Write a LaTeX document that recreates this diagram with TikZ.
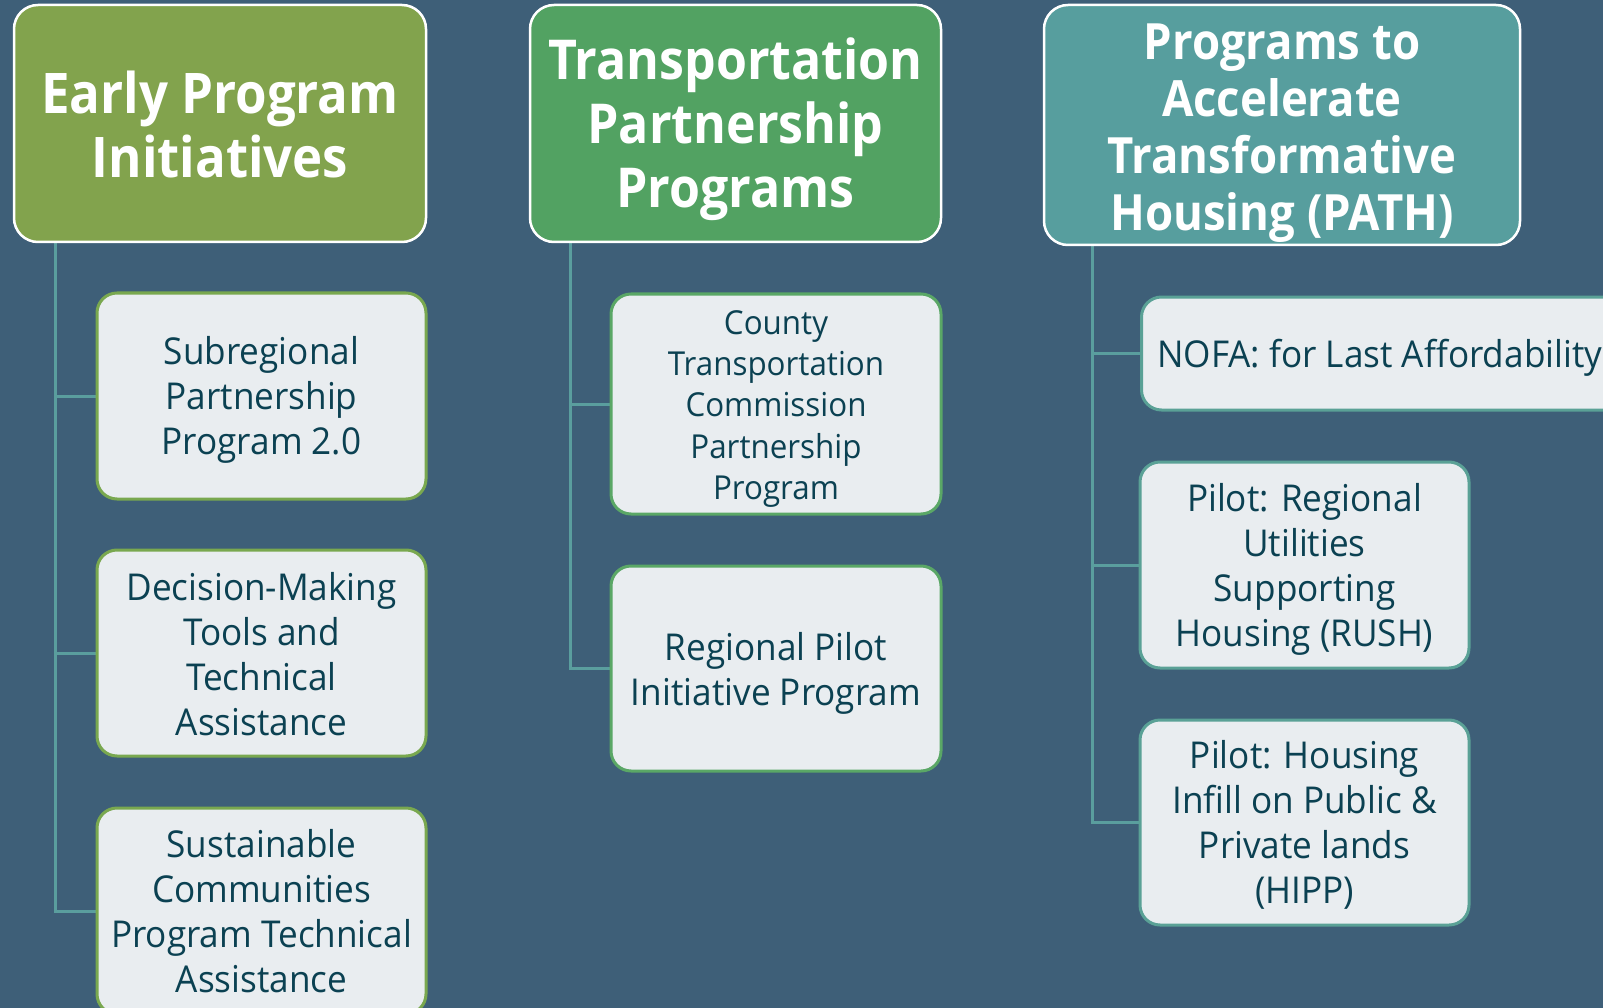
\documentclass[tikz,border=0pt]{standalone}
\usepackage{fontspec}
\setmainfont{Open Sans}[FakeStretch=0.95]
\newfontfamily\hdfont{Open Sans}[FakeStretch=0.91]
\definecolor{bgc}{HTML}{3E5F78}
\definecolor{hone}{HTML}{82A34D}
\definecolor{htwo}{HTML}{52A262}
\definecolor{hthree}{HTML}{579E9E}
\definecolor{boxfill}{HTML}{E9EDF0}
\definecolor{txtc}{HTML}{0B4152}
\definecolor{bone}{HTML}{79A84F}
\definecolor{btwo}{HTML}{5AA766}
\definecolor{bthree}{HTML}{5AA196}
\definecolor{linec}{HTML}{5A9E9E}
\pgfdeclarelayer{back}
\pgfsetlayers{back,main}
\begin{document}
\begin{tikzpicture}[x=1pt,y=-1pt,
  headbox/.style={draw=white, line width=2.5pt, rounded corners=24pt, inner sep=0pt},
  headtxt/.style={text=white, align=center, inner sep=0pt,
    font=\hdfont\bfseries\fontsize{56}{64}\selectfont},
  childbox/.style={fill=boxfill, line width=3pt, rounded corners=20pt, inner sep=0pt},
  childtxt/.style={text=txtc, align=center, inner sep=0pt, font=\fontsize{37}{45}\selectfont},
  conn/.style={draw=linec, line width=3pt}]
\path[use as bounding box] (0,0) rectangle (1603,1008);
\clip (0,0) rectangle (1603,1008);
\begin{pgfonlayer}{back}
\fill[bgc] (0,0) rectangle (1603,1008);
\end{pgfonlayer}

% headers
\node[headbox, fill=hone, minimum width=412pt, minimum height=237pt] (h1) at (220,123.5) {};
\node[headtxt] (h1t) at ([yshift=-1pt]h1.center) {Early Program\\Initiatives};
\node[headbox, fill=htwo, minimum width=411pt, minimum height=237pt] (h2) at (735.5,123.5) {};
\node[headtxt, font=\hdfont\bfseries\fontsize{55}{64}\selectfont] (h2t) at ([yshift=-6pt]h2.center)
  {Transportation\\Partnership\\Programs};
\node[headbox, fill=hthree, minimum width=476pt, minimum height=240pt] (h3) at (1282,125) {};
\node[headtxt, font=\hdfont\bfseries\fontsize{50}{57}\selectfont] (h3t) at ([yshift=-8pt]h3.center)
  {Programs to\\Accelerate\\Transformative\\Housing (PATH)};

% column 1
\node[childbox, draw=bone, minimum width=329pt, minimum height=206pt] (c11) at (261.5,396) {};
\node[childtxt] (c11t) at ([yshift=-4pt]c11.center) {Subregional\\Partnership\\Program 2.0};
\node[childbox, draw=bone, minimum width=329pt, minimum height=206pt] (c12) at (261.5,653) {};
\node[childtxt] (c12t) at ([yshift=-1pt]c12.center) {Decision-Making\\Tools and\\Technical\\Assistance};
\node[childbox, draw=bone, minimum width=329pt, minimum height=206pt] (c13) at (261.5,911) {};
\node[childtxt] (c13t) at ([yshift=-0.5pt]c13.center) {Sustainable\\Communities\\Program Technical\\Assistance};

% column 2
\node[childbox, draw=btwo, minimum width=330pt, minimum height=220pt] (c21) at (776,404) {};
\node[childtxt, font=\fontsize{33}{41.4}\selectfont] (c21t) at ([yshift=-5pt]c21.center)
  {County\\Transportation\\Commission\\Partnership\\Program};
\node[childbox, draw=btwo, minimum width=330pt, minimum height=205pt] (c22) at (776,668.5) {};
\node[childtxt] (c22t) at ([yshift=-5pt]c22.center) {Regional Pilot\\Initiative Program};

% column 3
\node[childbox, draw=bthree, anchor=west, minimum width=560pt, minimum height=113pt] (c31) at (1140,353.5) {};
\node[childtxt, anchor=west] (c31t) at ([xshift=17pt,yshift=-4pt]c31.west) {NOFA: for Last Affordability};
\node[childbox, draw=bthree, minimum width=329pt, minimum height=206pt] (c32) at (1304.5,565) {};
\node[childtxt] (c32t) at ([yshift=-4pt]c32.center) {Pilot: Regional\\Utilities\\Supporting\\Housing (RUSH)};
\node[childbox, draw=bthree, minimum width=329pt, minimum height=205pt] (c33) at (1304.5,822.5) {};
\node[childtxt] (c33t) at ([yshift=-2pt]c33.center) {Pilot: Housing\\Infill on Public \&\\Private lands\\(HIPP)};

% connectors
\coordinate (t1) at (55,242);
\coordinate (t2) at (570,242);
\coordinate (t3) at (1092,245);
\begin{pgfonlayer}{back}
\draw[conn] (t1) |- (c11.west);
\draw[conn] (t1) |- (c12.west);
\draw[conn] (t1) |- (c13.west);
\draw[conn] (t2) |- (c21.west);
\draw[conn] (t2) |- (c22.west);
\draw[conn] (t3) |- (c31.west);
\draw[conn] (t3) |- (c32.west);
\draw[conn] (t3) |- (c33.west);
\end{pgfonlayer}
\end{tikzpicture}
\end{document}
